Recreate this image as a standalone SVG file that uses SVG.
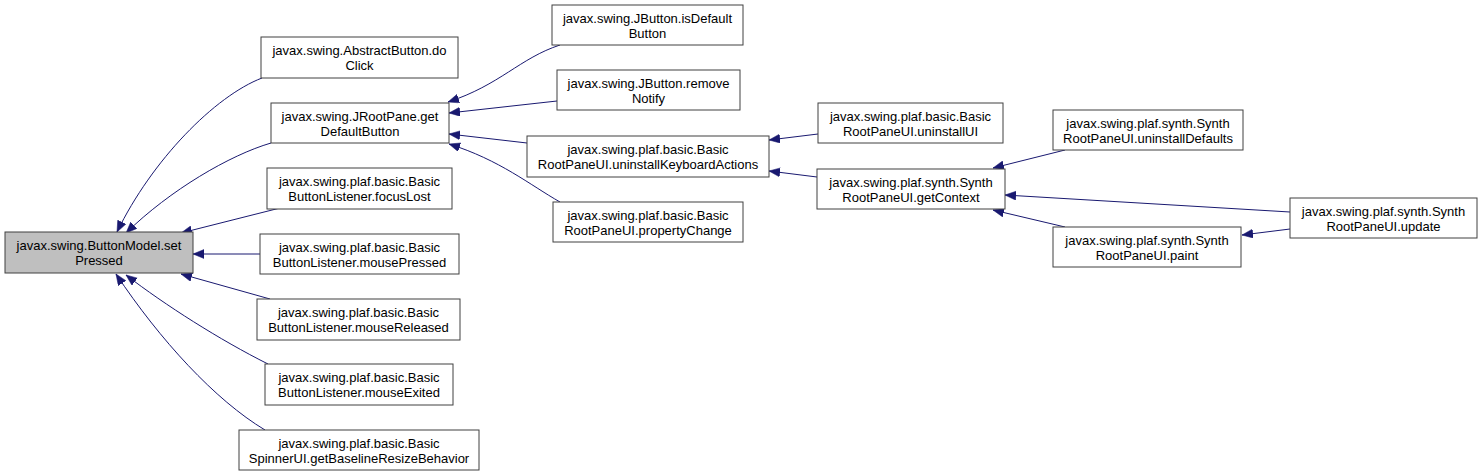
<svg xmlns="http://www.w3.org/2000/svg" width="1483" height="476" viewBox="0 0 1483 476">
<style>
.n rect{fill:#ffffff;stroke:#404040;stroke-width:1}
#main rect{fill:#bfbfbf}
.n text{font-family:"Liberation Sans",Arial,sans-serif;font-size:13px;fill:#000;text-anchor:middle}
.e path{fill:none;stroke:#191970;stroke-width:1;marker-end:url(#ah)}
</style>
<defs>
<marker id="ah" markerUnits="userSpaceOnUse" markerWidth="12" markerHeight="10" refX="11" refY="4.5" orient="auto">
<path d="M0,0 L11,4.5 L0,9 z" fill="#191970" stroke="#191970" stroke-width="0.5"/>
</marker>
</defs>
<rect width="1483" height="476" fill="#ffffff"/>
<g class="e">
<path d="M262,78 C215,96 152,160 117,232"/>
<path d="M271,143 C230,155 170,190 126,233"/>
<path d="M280,208 L181,233"/>
<path d="M260,254 L193,254"/>
<path d="M270,299 L181,274"/>
<path d="M268,364 C220,340 165,305 126,275"/>
<path d="M265,430 C215,400 160,340 116,274"/>
<path d="M560,45 C520,58 500,85 448,102"/>
<path d="M557,101 L449,113"/>
<path d="M527,143 L449,134"/>
<path d="M560,202 C530,185 500,160 449,144"/>
<path d="M818,134 L769,140"/>
<path d="M817,177 L769,171"/>
<path d="M1065,150 L993,168"/>
<path d="M1290,212 L1005,195"/>
<path d="M1065,227 L993,210"/>
<path d="M1290,229 L1242,235"/>
</g>
<g id="main" class="n"><rect x="5" y="232" width="188" height="41"/><text x="99" y="250">javax.swing.ButtonModel.set</text><text x="99" y="265">Pressed</text></g>
<g id="doClick" class="n"><rect x="261" y="37" width="197" height="41"/><text x="359.5" y="55">javax.swing.AbstractButton.do</text><text x="359.5" y="70">Click</text></g>
<g id="getDefaultButton" class="n"><rect x="271" y="103" width="178" height="40"/><text x="360" y="121">javax.swing.JRootPane.get</text><text x="360" y="136">DefaultButton</text></g>
<g id="focusLost" class="n"><rect x="267" y="168" width="185" height="41"/><text x="359.5" y="186">javax.swing.plaf.basic.Basic</text><text x="359.5" y="201">ButtonListener.focusLost</text></g>
<g id="mousePressed" class="n"><rect x="260" y="234" width="199" height="40"/><text x="359.5" y="252">javax.swing.plaf.basic.Basic</text><text x="359.5" y="267">ButtonListener.mousePressed</text></g>
<g id="mouseReleased" class="n"><rect x="257" y="299" width="203" height="41"/><text x="358.5" y="317">javax.swing.plaf.basic.Basic</text><text x="358.5" y="332">ButtonListener.mouseReleased</text></g>
<g id="mouseExited" class="n"><rect x="265" y="364" width="188" height="41"/><text x="359" y="382">javax.swing.plaf.basic.Basic</text><text x="359" y="397">ButtonListener.mouseExited</text></g>
<g id="getBaselineResizeBehavior" class="n"><rect x="239" y="430" width="240" height="40"/><text x="359" y="448">javax.swing.plaf.basic.Basic</text><text x="359" y="463">SpinnerUI.getBaselineResizeBehavior</text></g>
<g id="isDefaultButton" class="n"><rect x="552" y="5" width="191" height="40"/><text x="647.5" y="23">javax.swing.JButton.isDefault</text><text x="647.5" y="38">Button</text></g>
<g id="removeNotify" class="n"><rect x="557" y="70" width="183" height="40"/><text x="648.5" y="88">javax.swing.JButton.remove</text><text x="648.5" y="103">Notify</text></g>
<g id="uninstallKeyboardActions" class="n"><rect x="527" y="136" width="242" height="41"/><text x="648" y="154">javax.swing.plaf.basic.Basic</text><text x="648" y="169">RootPaneUI.uninstallKeyboardActions</text></g>
<g id="propertyChange" class="n"><rect x="553" y="202" width="190" height="40"/><text x="648" y="220">javax.swing.plaf.basic.Basic</text><text x="648" y="235">RootPaneUI.propertyChange</text></g>
<g id="uninstallUI" class="n"><rect x="818" y="103" width="185" height="40"/><text x="910.5" y="121">javax.swing.plaf.basic.Basic</text><text x="910.5" y="136">RootPaneUI.uninstallUI</text></g>
<g id="getContext" class="n"><rect x="817" y="169" width="188" height="40"/><text x="911" y="187">javax.swing.plaf.synth.Synth</text><text x="911" y="202">RootPaneUI.getContext</text></g>
<g id="uninstallDefaults" class="n"><rect x="1053" y="110" width="190" height="40"/><text x="1148" y="128">javax.swing.plaf.synth.Synth</text><text x="1148" y="143">RootPaneUI.uninstallDefaults</text></g>
<g id="paint" class="n"><rect x="1053" y="227" width="188" height="40"/><text x="1147" y="245">javax.swing.plaf.synth.Synth</text><text x="1147" y="260">RootPaneUI.paint</text></g>
<g id="update" class="n"><rect x="1290" y="198" width="187" height="40"/><text x="1383.5" y="216">javax.swing.plaf.synth.Synth</text><text x="1383.5" y="231">RootPaneUI.update</text></g>
</svg>
